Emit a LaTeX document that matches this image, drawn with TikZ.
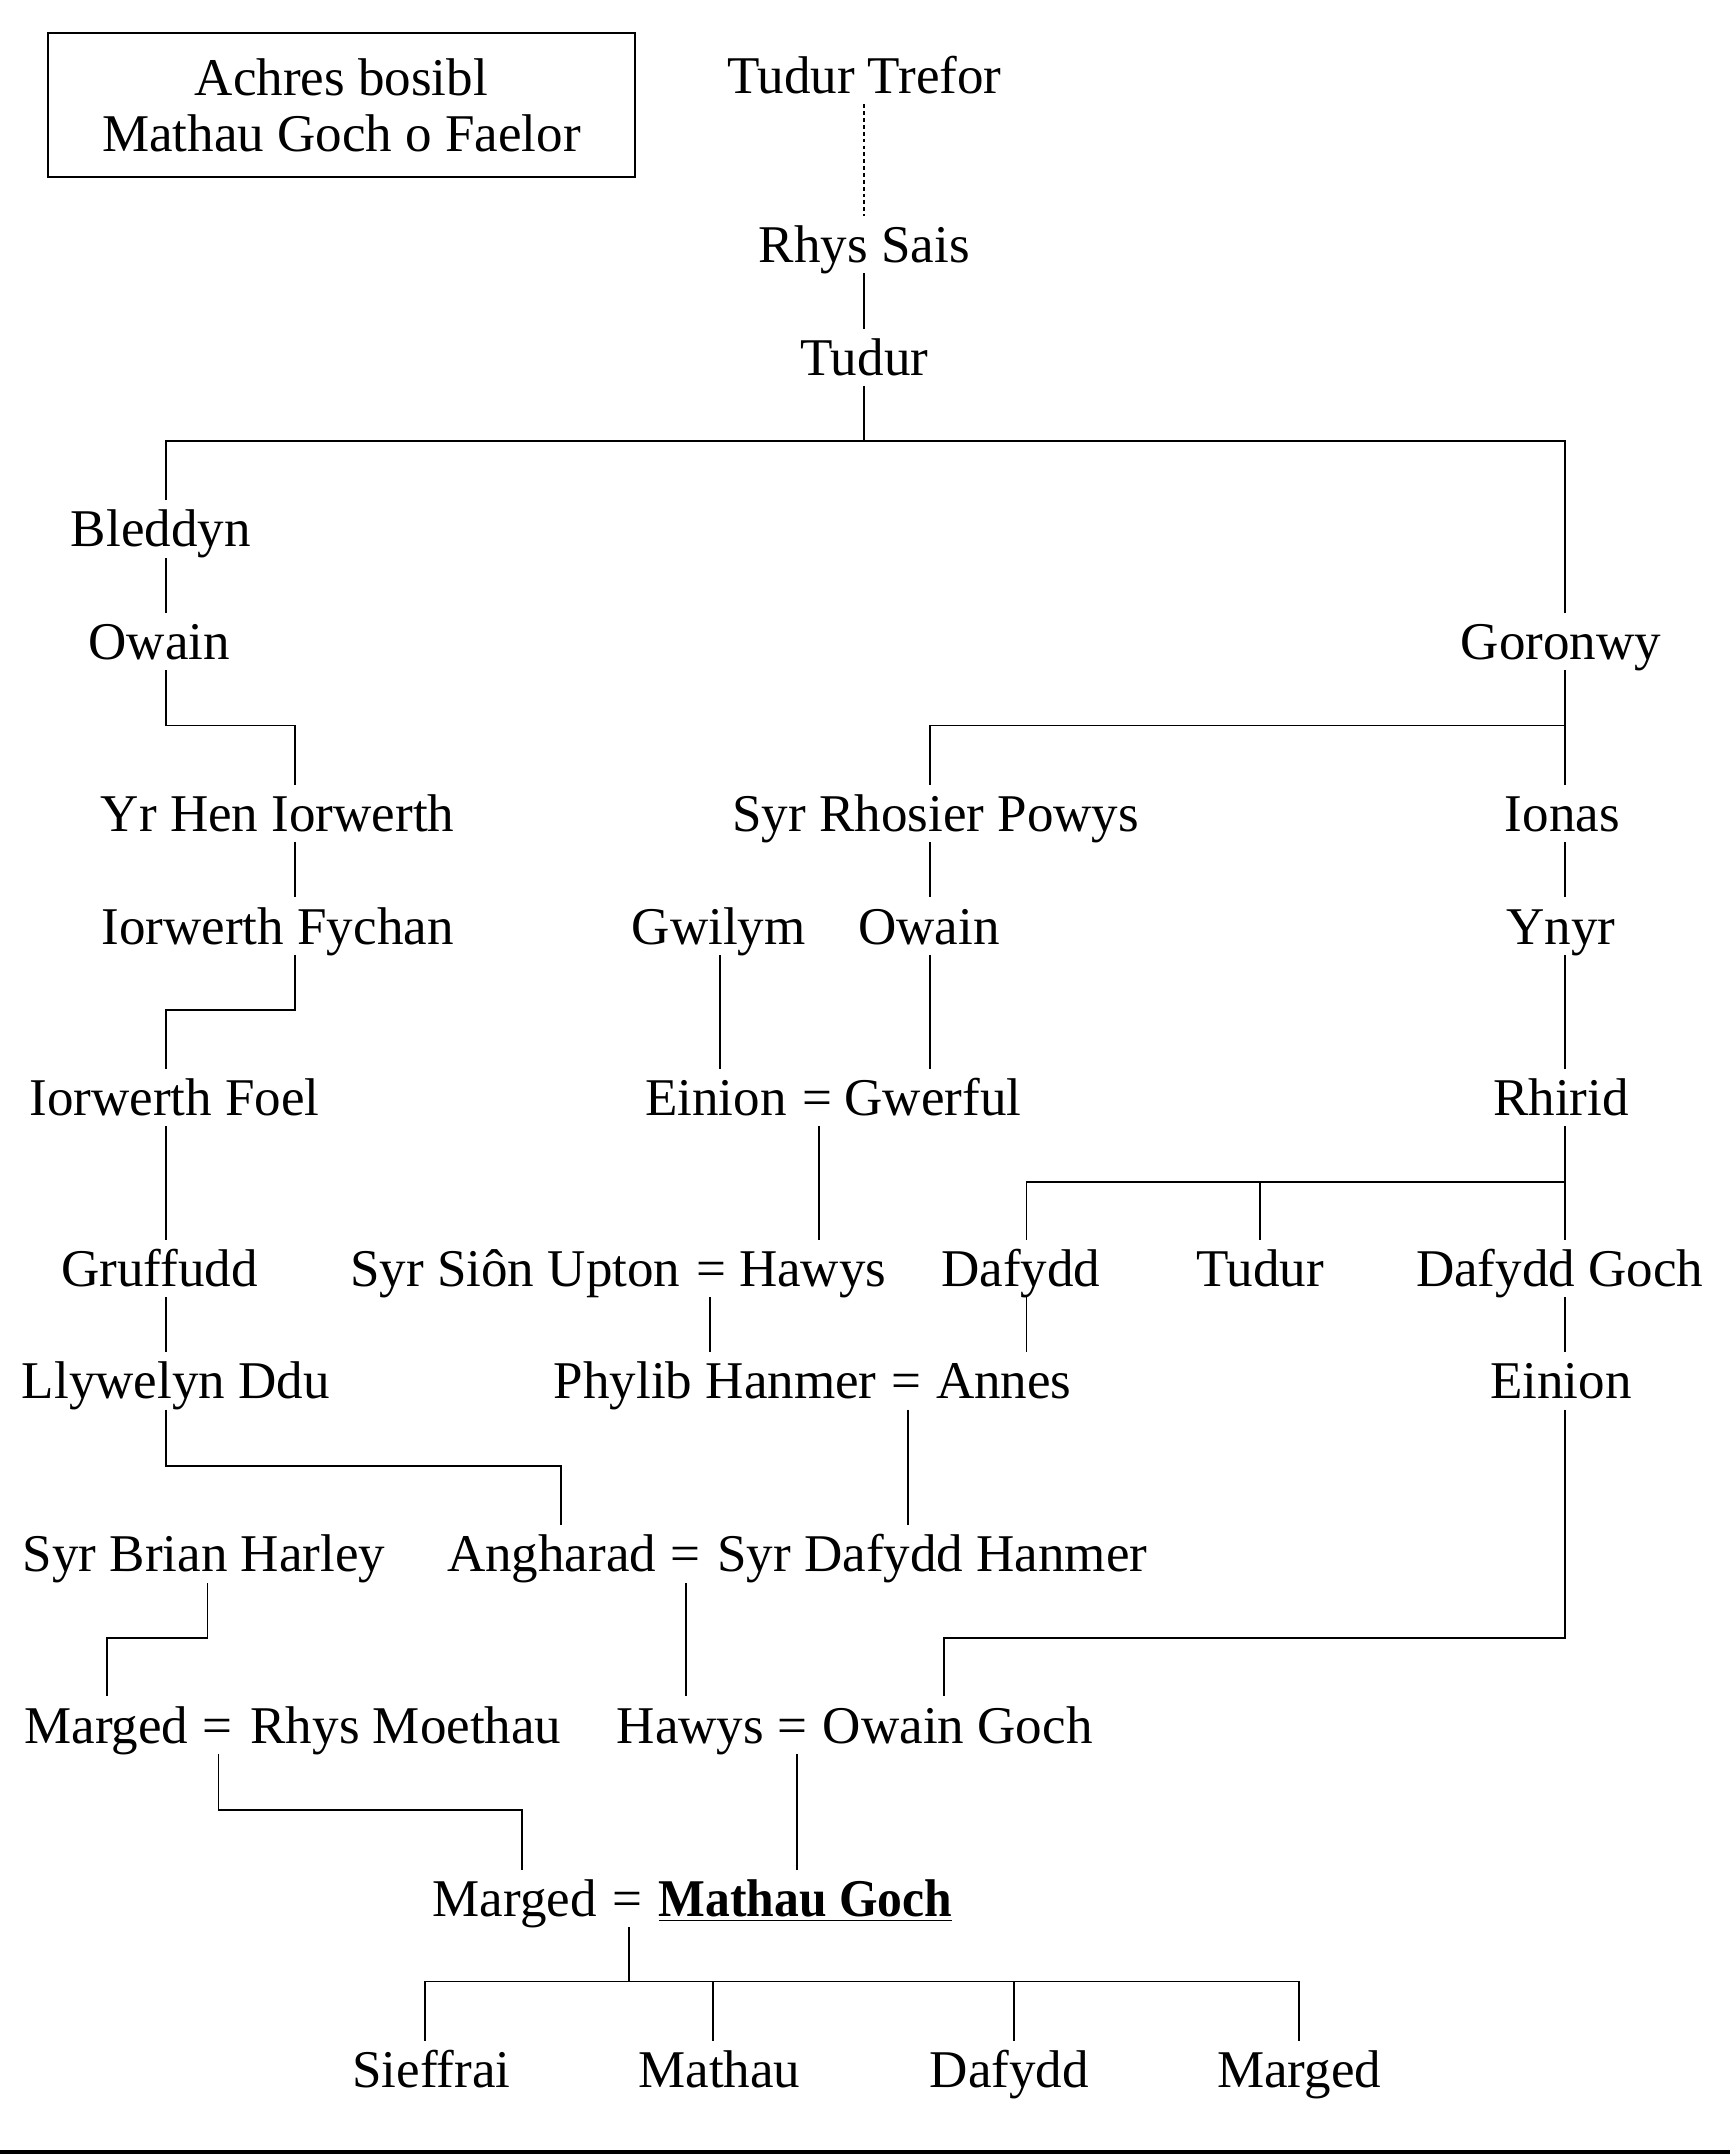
\documentclass[tikz,border=0pt]{standalone}
\usepackage{fontspec}
\setmainfont{Liberation Serif}
\begin{document}
\begin{tikzpicture}[x=0.5pt,y=-0.5pt,
  font=\fontsize{19.3pt}{23pt}\selectfont,
  pers/.style={anchor=base, inner sep=0pt, text height=16.75pt, text depth=3.75pt},
  conn/.style={line width=0.7pt},
  dotline/.style={line width=0.6pt, dash pattern=on 1.4pt off 1.1pt},
  titlebox/.style={draw, line width=0.7pt, minimum width=213.5pt, minimum height=52.5pt, align=center, inner sep=0pt, font=\fontsize{19.3pt}{20.5pt}\selectfont}]
\useasboundingbox (0,0) rectangle (1259,1568.3);

% columns and bar levels
\coordinate (xL) at (121,0);  \coordinate (xY) at (215,0);  \coordinate (xG) at (1139,0);
\coordinate (xR) at (677,0);  \coordinate (xW) at (524,0);  \coordinate (xE1) at (596,0);
\coordinate (xD) at (747,0);  \coordinate (xT) at (917,0);  \coordinate (xE2) at (517,0);
\coordinate (xE3) at (661,0); \coordinate (xAng) at (408,0); \coordinate (xE4) at (499,0);
\coordinate (xOG) at (687,0); \coordinate (xB) at (151,0);  \coordinate (xM1) at (78,0);
\coordinate (xE5) at (159,0); \coordinate (xM2) at (380,0); \coordinate (xE6) at (580,0);
\coordinate (xE7) at (458,0); \coordinate (xC1) at (309,0); \coordinate (xC2) at (519,0);
\coordinate (xC3) at (738,0); \coordinate (xC4) at (945,0);
\coordinate (yb1) at (0,321);  \coordinate (yb2) at (0,528);  \coordinate (yb3) at (0,735);
\coordinate (yb4) at (0,860);  \coordinate (yb5) at (0,1067); \coordinate (yb6) at (0,1192);
\coordinate (yb7) at (0,1317); \coordinate (yb8) at (0,1442);

% title
\node[titlebox] (title) at (248.5,76.5) {Achres bosibl\\Mathau Goch o Faelor};

% people
\node[pers] (tt) at (629,68) {Tudur Trefor};
\node[pers] (rs) at (629,191) {Rhys Sais};
\node[pers] (tu) at (629,273) {Tudur};
\node[pers] (bl) at (117,398) {Bleddyn};
\node[pers] (ow) at (116,480) {Owain};
\node[pers] (go) at (1136,480) {Goronwy};
\node[pers] (yh) at (202,605) {Yr Hen Iorwerth};
\node[pers] (rp) at (681,605) {Syr Rhosier Powys};
\node[pers] (io) at (1137,605) {Ionas};
\node[pers] (ifc) at (202,687) {Iorwerth Fychan};
\node[pers] (gw) at (523,687) {Gwilym};
\node[pers] (ow2) at (676,687) {Owain};
\node[pers] (yn) at (1136,687) {Ynyr};
\node[pers] (ifo) at (127,811.5) {Iorwerth Foel};
\node[pers] (ei) at (521,811.5) {Einion};
\node[pers] (eq1) at (595,811.5) {=};
\node[pers] (gwe) at (679,811.5) {Gwerful};
\node[pers] (rh) at (1136,811.5) {Rhirid};
\node[pers] (gr) at (116,936) {Gruffudd};
\node[pers] (ssu) at (375,936) {Syr Siôn Upton};
\node[pers] (eq2) at (517.5,936) {=};
\node[pers] (haw1) at (591.5,936) {Hawys};
\node[pers] (da) at (743,936) {Dafydd};
\node[pers] (tu2) at (917,936) {Tudur};
\node[pers] (dg) at (1135,936) {Dafydd Goch};
\node[pers] (ll) at (128,1018) {Llywelyn Ddu};
\node[pers] (ph) at (520.5,1018) {Phylib Hanmer};
\node[pers] (eq3) at (660,1018) {=};
\node[pers] (an) at (730.5,1018) {Annes};
\node[pers] (ei2) at (1136,1018) {Einion};
\node[pers] (sbh) at (148.5,1144) {Syr Brian Harley};
\node[pers] (ang) at (401.5,1144) {Angharad};
\node[pers] (eq4) at (499,1144) {=};
\node[pers] (sdh) at (678.5,1144) {Syr Dafydd Hanmer};
\node[pers] (mg1) at (77.5,1268.5) {Marged};
\node[pers] (eq5) at (158.5,1268.5) {=};
\node[pers] (rm) at (295.5,1268.5) {Rhys Moethau};
\node[pers] (haw2) at (502.5,1268.5) {Hawys};
\node[pers] (eq6) at (576.5,1268.5) {=};
\node[pers] (og) at (697,1268.5) {Owain Goch};
\node[pers] (mg2) at (374.5,1394.5) {Marged};
\node[pers] (eq7) at (456.5,1394.5) {=};
\node[pers, anchor=base west] (mgo) at (479,1394.5) {\scalebox{0.935}[1]{\textbf{\underline{Mathau Goch}}}};
\node[pers] (c1) at (314,1519) {Sieffrai};
\node[pers] (c2) at (523.5,1519) {Mathau};
\node[pers] (c3) at (734.5,1519) {Dafydd};
\node[pers] (c4) at (945.5,1519) {Marged};

% connectors
\draw[dotline] (tt.south) -- (rs.north);
\draw[conn] (rs.south) -- (tu.north);
\draw[conn] (tu.south) -- (tu.south |- yb1);
\draw[conn] (bl.north -| xL) -- (xL |- yb1) -- (xG |- yb1) -- (go.north -| xG);
\draw[conn] (bl.south -| xL) -- (ow.north -| xL);
\draw[conn] (ow.south -| xL) -- (xL |- yb2) -| (yh.north -| xY);
\draw[conn] (go.south -| xG) -- (io.north -| xG);
\draw[conn] (xG |- yb2) -| (rp.north -| xR);
\draw[conn] (yh.south -| xY) -- (ifc.north -| xY);
\draw[conn] (rp.south -| xR) -- (ow2.north -| xR);
\draw[conn] (io.south -| xG) -- (yn.north -| xG);
\draw[conn] (ifc.south -| xY) -- (xY |- yb3) -| (ifo.north -| xL);
\draw[conn] (gw.south -| xW) -- (ei.north -| xW);
\draw[conn] (ow2.south -| xR) -- (gwe.north -| xR);
\draw[conn] (yn.south -| xG) -- (rh.north -| xG);
\draw[conn] (ifo.south -| xL) -- (gr.north -| xL);
\draw[conn] (eq1.south -| xE1) -- (haw1.north -| xE1);
\draw[conn] (rh.south -| xG) -- (dg.north -| xG);
\draw[conn] (da.north -| xD) |- (xG |- yb4);
\draw[conn] (tu2.north -| xT) -- (xT |- yb4);
\draw[conn] (gr.south -| xL) -- (ll.north -| xL);
\draw[conn] (eq2.south -| xE2) -- (ph.north -| xE2);
\draw[conn] (da.south -| xD) -- (an.north -| xD);
\draw[conn] (dg.south -| xG) -- (ei2.north -| xG);
\draw[conn] (ll.south -| xL) -- (xL |- yb5) -| (ang.north -| xAng);
\draw[conn] (eq3.south -| xE3) -- (sdh.north -| xE3);
\draw[conn] (ei2.south -| xG) -- (xG |- yb6) -| (og.north -| xOG);
\draw[conn] (sbh.south -| xB) -- (xB |- yb6) -| (mg1.north -| xM1);
\draw[conn] (eq4.south -| xE4) -- (haw2.north -| xE4);
\draw[conn] (eq5.south -| xE5) -- (xE5 |- yb7) -| (mg2.north -| xM2);
\draw[conn] (eq6.south -| xE6) -- (mgo.north -| xE6);
\draw[conn] (eq7.south -| xE7) -- (xE7 |- yb8);
\draw[conn] (c1.north -| xC1) |- (xC4 |- yb8) -- (c4.north -| xC4);
\draw[conn] (c2.north -| xC2) -- (xC2 |- yb8);
\draw[conn] (c3.north -| xC3) -- (xC3 |- yb8);

% bottom rule
\draw[line width=1.4pt] (0,1566.3) -- (1259,1566.3);
\end{tikzpicture}
\end{document}
